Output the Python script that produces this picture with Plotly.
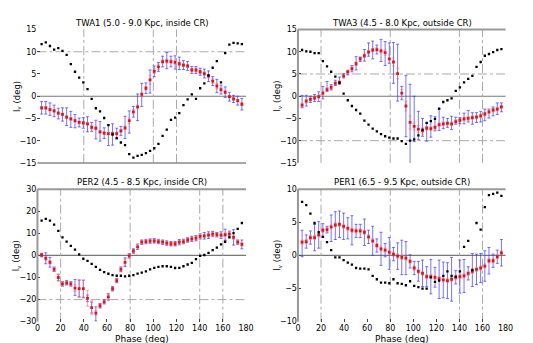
import plotly.graph_objects as go

# phase bins (deg), shared by all four panels
PHASE = [3.6, 7.2, 10.8, 14.4, 18.0, 21.6, 25.2, 28.8, 32.4, 36.0,
         39.6, 43.2, 46.8, 50.4, 54.0, 57.6, 61.2, 64.8, 68.4, 72.0,
         75.6, 79.2, 82.8, 86.4, 90.0, 93.6, 97.2, 100.8, 104.4, 108.0,
         111.6, 115.2, 118.8, 122.4, 126.0, 129.6, 133.2, 136.8, 140.4, 144.0,
         147.6, 151.2, 154.8, 158.4, 162.0, 165.6, 169.2, 172.8, 176.4]
X_TICKS = [0, 20, 40, 60, 80, 100, 120, 140, 160, 180]

# ---- TWA1 (5.0 - 9.0 Kpc, inside CR)
TWA1_BLACK = [11.7, 12.1, 11.3, 10.5, 10.8, 10.2, 9.3, 7.2, 5.5, 4.2,
              3.1, 1.6, -0.6, -2.7, -3.4, -4.9, -6.5, -8.6, -9.4, -10.4,
              -11.0, -13.0, -13.8, -13.4, -13.2, -12.8, -12.3, -11.7, -10.7, -8.9,
              -7.5, -5.3, -4.8, -3.8, -2.0, -0.7, 0.4, -0.6, 1.8, 2.9,
              4.7, 6.4, 7.9, 3.1, 9.7, 11.6, 12.0, 11.9, 11.7]
TWA1_RED = [-2.6, -2.6, -3.0, -3.3, -3.8, -4.1, -4.7, -5.1, -5.5, -5.9,
            -6.0, -6.2, -7.0, -7.2, -8.0, -8.3, -8.4, -8.4, -8.4, -7.8,
            -7.1, -5.5, -3.5, -2.4, 0.4, 1.8, 3.7, 5.6, 6.6, 7.8,
            7.9, 7.8, 7.6, 7.3, 7.0, 6.8, 5.9, 5.9, 5.5, 5.1,
            4.5, 3.4, 2.3, 1.5, 0.9, -0.1, -0.6, -1.0, -1.8]
TWA1_RED_ERR = [0.3, 0.3, 0.3, 0.3, 0.3, 0.3, 0.3, 0.3, 0.3, 0.3,
                0.3, 0.3, 0.4, 0.3, 0.3, 0.3, 0.3, 0.3, 0.3, 0.3,
                0.4, 0.6, 0.5, 0.4, 0.4, 0.4, 1.0, 0.5, 0.6, 0.4,
                0.4, 0.4, 0.4, 0.4, 0.3, 0.3, 0.3, 0.4, 0.4, 0.4,
                0.4, 0.5, 0.6, 0.4, 0.3, 0.3, 0.3, 0.3, 0.3]
TWA1_BLUE = [-2.6, -2.6, -2.9, -3.3, -3.9, -4.1, -4.6, -5.2, -5.6, -5.9,
             -6.0, -6.3, -6.9, -7.5, -7.9, -8.3, -8.8, -8.6, -8.4, -7.8,
             -7.0, -5.8, -3.5, -2.5, 0.3, 1.8, 3.3, 5.6, 6.6, 7.8,
             8.0, 7.8, 7.6, 7.4, 7.0, 6.8, 5.9, 5.9, 5.5, 5.1,
             4.5, 3.4, 2.3, 1.5, 0.9, -0.1, -0.6, -1.0, -1.8]
TWA1_BLUE_ERR = [1.4, 1.4, 1.4, 1.3, 1.2, 1.5, 2.0, 1.8, 1.5, 1.0,
                 1.2, 1.7, 1.0, 2.1, 2.2, 1.2, 2.3, 2.4, 1.2, 1.0,
                 2.5, 2.5, 1.2, 3.0, 2.6, 1.2, 2.6, 1.2, 1.0, 1.2,
                 1.8, 1.2, 1.5, 1.4, 1.0, 1.0, 0.8, 0.8, 0.8, 1.0,
                 1.2, 1.0, 1.5, 1.0, 1.2, 1.0, 0.8, 1.0, 1.3]

# ---- TWA3 (4.5 - 8.0 Kpc, outside CR)
TWA3_BLACK = [10.4, 10.1, 10.0, 9.7, 9.7, 7.9, 6.7, 5.5, 4.4, 3.0,
              0.6, -0.9, -2.2, -3.1, -3.9, -5.5, -6.4, -7.3, -7.9, -8.5,
              -9.0, -9.3, -9.5, -9.5, -10.1, -10.7, -10.0, -9.7, -8.8, -7.5,
              -6.0, -5.6, -5.1, -2.8, -1.3, -0.9, -0.5, 1.2, 2.0, 3.1,
              3.9, 4.6, 6.6, 7.7, 9.1, 9.5, 9.9, 10.4, 10.6]
TWA3_RED = [-2.0, -1.1, -0.7, -0.4, -0.1, 0.7, 1.5, 2.0, 2.9, 3.1,
            4.6, 5.5, 6.2, 7.3, 8.4, 9.1, 9.9, 10.4, 10.5, 10.2,
            9.8, 8.4, 7.7, 5.1, 0.7, -2.2, -5.9, -6.8, -7.4, -7.8,
            -7.2, -7.3, -7.0, -6.4, -6.2, -6.1, -6.2, -5.7, -5.4, -5.1,
            -5.0, -4.8, -4.7, -4.4, -4.0, -3.5, -3.1, -2.9, -2.4]
TWA3_RED_ERR = [0.4, 0.4, 0.4, 0.4, 0.4, 0.4, 0.4, 0.4, 0.4, 0.4,
                0.4, 0.4, 0.4, 0.4, 0.4, 0.4, 0.4, 0.4, 0.4, 0.4,
                0.6, 0.9, 0.9, 1.2, 0.8, 1.1, 1.5, 0.8, 0.8, 0.7,
                0.4, 0.4, 0.4, 0.4, 0.4, 0.4, 0.4, 0.4, 0.4, 0.4,
                0.4, 0.4, 0.4, 0.4, 0.4, 0.4, 0.4, 0.4, 0.4]
TWA3_BLUE = [-1.2, -1.0, -0.7, -0.4, -0.1, 0.8, 2.2, 2.0, 3.0, 3.5,
             4.6, 5.2, 6.2, 7.4, 8.3, 9.2, 10.5, 10.4, 10.5, 10.3,
             9.6, 9.7, 7.5, 5.3, 0.7, -2.2, -6.3, -5.1, -6.6, -7.0,
             -8.1, -6.8, -6.2, -5.3, -6.0, -6.0, -6.0, -5.5, -5.5, -5.0,
             -4.5, -5.0, -4.8, -4.6, -4.2, -3.9, -3.4, -2.8, -2.5]
TWA3_BLUE_ERR = [1.4, 1.2, 0.7, 0.8, 1.1, 1.4, 1.1, 0.6, 0.6, 0.8,
                 0.5, 0.4, 0.7, 1.5, 0.5, 1.3, 1.5, 2.0, 1.0, 2.5,
                 2.7, 2.3, 4.6, 6.4, 1.5, 6.9, 9.0, 5.1, 3.2, 2.0,
                 2.0, 2.4, 1.6, 2.4, 1.3, 1.0, 1.5, 0.8, 0.7, 1.2,
                 1.3, 1.3, 1.1, 1.2, 1.3, 1.0, 1.0, 1.3, 1.0]

# ---- PER2 (4.5 - 8.5 Kpc, inside CR)
PER2_BLACK = [15.8, 16.6, 15.8, 14.0, 11.1, 8.2, 6.3, 4.3, 2.6, 0.5,
              -1.5, -2.5, -3.8, -5.2, -6.5, -7.6, -8.3, -8.9, -9.2, -9.2,
              -9.5, -9.2, -8.9, -8.2, -7.8, -7.2, -6.3, -5.6, -5.2, -4.9,
              -4.9, -5.2, -5.7, -5.6, -4.9, -4.1, -3.4, -1.7, -0.2, 0.2,
              1.2, 2.4, 3.5, 5.0, 6.2, 8.2, 10.1, 12.0, 14.7]
PER2_RED = [0.2, -1.3, -3.1, -6.3, -10.0, -12.9, -12.4, -12.9, -14.8, -15.0,
            -15.0, -19.4, -23.6, -26.1, -22.8, -21.0, -18.8, -15.1, -11.4, -6.3,
            -3.1, -0.2, 2.0, 3.9, 6.0, 6.3, 6.5, 6.6, 6.3, 6.0,
            5.6, 5.3, 5.3, 6.0, 6.3, 7.0, 7.5, 7.8, 8.6, 8.9,
            9.2, 9.7, 9.4, 9.2, 9.4, 9.7, 8.2, 6.0, 5.0]
PER2_RED_ERR = [0.5, 0.8, 0.8, 1.0, 1.5, 1.0, 0.8, 0.8, 1.5, 4.0,
                3.8, 3.6, 3.3, 1.0, 0.8, 0.8, 1.0, 0.8, 0.8, 1.2,
                1.5, 0.8, 0.8, 1.2, 0.8, 0.8, 0.8, 0.8, 0.8, 0.8,
                0.8, 0.8, 0.8, 0.8, 1.0, 0.8, 0.8, 0.8, 0.8, 0.8,
                0.8, 0.8, 0.8, 0.8, 0.8, 1.5, 1.0, 0.8, 0.8]
PER2_BLUE = [0.2, -1.3, -3.1, -6.3, -10.0, -12.9, -12.4, -12.9, -14.5, -15.0,
             -15.2, -19.4, -23.6, -26.5, -22.8, -21.0, -18.8, -15.1, -11.4, -6.3,
             -3.1, -0.2, 2.0, 3.9, 6.0, 6.3, 6.5, 6.6, 6.3, 6.0,
             5.6, 5.3, 5.3, 6.0, 6.3, 7.0, 7.5, 7.8, 8.6, 8.9,
             9.2, 9.7, 9.4, 9.2, 9.4, 9.7, 8.2, 6.0, 5.0]
PER2_BLUE_ERR = [0.8, 2.5, 2.2, 1.0, 1.5, 1.0, 1.0, 1.0, 3.6, 3.8,
                 4.0, 1.5, 2.5, 3.2, 1.0, 1.0, 1.5, 1.0, 1.0, 1.0,
                 2.0, 1.0, 1.0, 1.2, 1.0, 1.0, 1.0, 1.0, 1.0, 1.0,
                 1.0, 1.0, 1.0, 1.2, 1.0, 1.0, 1.2, 1.2, 1.2, 1.5,
                 1.5, 1.2, 1.0, 1.5, 2.5, 1.0, 3.5, 1.0, 2.0]

# ---- PER1 (6.5 - 9.5 Kpc, outside CR)
PER1_BLACK = [8.1, 7.6, 6.3, 4.9, 3.5, 2.8, 2.0, 0.8, -0.3, -0.3,
              -0.7, -1.1, -1.4, -1.9, -2.0, -2.0, -2.1, -3.1, -3.6, -4.1,
              -4.1, -4.2, -3.6, -4.2, -4.3, -4.5, -3.9, -4.6, -4.8, -5.0,
              -5.0, -3.3, -4.0, -3.8, -3.1, -2.4, -3.1, -3.2, -2.4, 1.3,
              2.2, -2.2, 4.9, 3.9, 7.3, 9.1, 9.3, 9.5, 9.0]
PER1_RED = [2.0, 2.1, 2.7, 2.7, 3.1, 3.8, 3.9, 4.3, 4.6, 4.7,
            4.4, 4.1, 3.8, 3.7, 3.7, 3.5, 2.8, 2.2, 1.5, 1.0,
            0.8, 0.5, 0.2, -0.1, -0.3, -0.4, -0.9, -1.9, -2.4, -2.7,
            -3.2, -3.2, -3.3, -3.5, -3.7, -3.8, -3.6, -3.3, -3.2, -3.1,
            -2.7, -2.4, -2.1, -1.9, -1.6, -0.8, -0.8, -0.2, 0.4]
PER1_RED_ERR = [0.3, 0.3, 0.3, 0.3, 0.3, 0.3, 0.3, 0.3, 0.3, 0.3,
                0.3, 0.3, 0.3, 0.3, 0.3, 0.3, 0.3, 0.3, 0.3, 0.3,
                0.3, 0.3, 0.3, 0.3, 0.3, 0.3, 0.3, 0.3, 0.3, 0.3,
                0.3, 0.3, 0.3, 0.3, 0.3, 0.3, 0.3, 0.3, 0.3, 0.3,
                0.3, 0.3, 0.3, 0.3, 0.3, 0.3, 0.3, 0.3, 0.3]
PER1_BLUE = [1.8, 2.1, 2.7, 2.7, 3.1, 3.8, 3.9, 4.1, 4.5, 4.7,
             4.4, 4.1, 3.8, 3.7, 3.7, 3.5, 2.8, 2.2, 1.5, 1.0,
             0.8, 0.3, 0.2, -0.1, -0.3, -0.4, -0.9, -1.9, -2.4, -2.7,
             -3.2, -3.2, -3.3, -3.6, -3.7, -3.8, -3.6, -3.3, -3.2, -3.1,
             -2.7, -2.2, -2.1, -1.9, -1.6, -0.8, -0.8, -0.2, 0.4]
PER1_BLUE_ERR = [2.0, 1.0, 1.0, 2.0, 2.0, 1.0, 0.5, 2.0, 2.1, 2.0,
                 2.0, 1.6, 2.2, 1.0, 1.0, 2.0, 1.0, 2.2, 1.0, 2.5,
                 1.0, 2.4, 1.0, 2.0, 2.6, 2.5, 1.0, 1.0, 1.5, 2.0,
                 1.5, 2.6, 1.5, 2.9, 2.7, 2.7, 3.3, 1.0, 2.5, 2.5,
                 1.0, 2.5, 2.3, 2.2, 2.3, 2.0, 1.0, 1.0, 2.0]

FONT = "DejaVu Sans"
W, H = 533, 343

panels = [
    dict(title="TWA1 (5.0 - 9.0 Kpc, inside CR)", black=TWA1_BLACK, red=TWA1_RED, red_err=TWA1_RED_ERR,
         blue=TWA1_BLUE, blue_err=TWA1_BLUE_ERR, yrange=[-15, 15], ytick=[-15, -10, -5, 0, 5, 10, 15],
         vlines=[40, 100, 120], hlines=[10], spines=["bottom"], col=0, row=0),
    dict(title="TWA3 (4.5 - 8.0 Kpc, outside CR)", black=TWA3_BLACK, red=TWA3_RED, red_err=TWA3_RED_ERR,
         blue=TWA3_BLUE, blue_err=TWA3_BLUE_ERR, yrange=[-15, 15], ytick=[-15, -10, -5, 0, 5, 10, 15],
         vlines=[20, 80, 140, 160], hlines=[5, -10], spines=["top", "left"], col=1, row=0),
    dict(title="PER2 (4.5 - 8.5 Kpc, inside CR)", black=PER2_BLACK, red=PER2_RED, red_err=PER2_RED_ERR,
         blue=PER2_BLUE, blue_err=PER2_BLUE_ERR, yrange=[-30, 30], ytick=[-30, -20, -10, 0, 10, 20, 30],
         vlines=[20, 80, 140, 160], hlines=[-20], spines=["top", "left"], col=0, row=1),
    dict(title="PER1 (6.5 - 9.5 Kpc, outside CR)", black=PER1_BLACK, red=PER1_RED, red_err=PER1_RED_ERR,
         blue=PER1_BLUE, blue_err=PER1_BLUE_ERR, yrange=[-10, 10], ytick=[-10, -5, 0, 5, 10],
         vlines=[20, 80, 140, 160], hlines=[], spines=["top", "left"], col=1, row=1),
]

# pixel boxes of the axes in the 533x343 picture
x_dom = [[27 / W, 240 / W], [293 / W, 505 / W]]
y_dom = [[1 - 155 / H, 1 - 18 / H], [1 - 318 / H, 1 - 182 / H]]

fig = go.Figure()
layout = dict(width=W, height=H, margin=dict(l=0, r=0, t=0, b=0),
              plot_bgcolor="white", paper_bgcolor="white", showlegend=False,
              font=dict(family=FONT, size=8, color="black"))
shapes = []
annotations = []

for i, p in enumerate(panels):
    n = "" if i == 0 else str(i + 1)
    xa, ya = "x" + n, "y" + n
    bottom = p["row"] == 1

    # blue error bars only (no centre marker), then red points, then the black curve
    fig.add_trace(go.Scatter(x=PHASE, y=p["blue"], xaxis=xa, yaxis=ya, mode="markers",
                             marker=dict(size=1, color="rgba(0,0,0,0)"),
                             error_y=dict(type="data", array=p["blue_err"], color="rgba(60,60,255,0.7)",
                                          thickness=1, width=1.5)))
    fig.add_trace(go.Scatter(x=PHASE, y=p["red"], xaxis=xa, yaxis=ya, mode="markers",
                             marker=dict(size=2.8, color="#e0141c", symbol="square"),
                             error_y=dict(type="data", array=p["red_err"], color="rgba(255,100,100,0.55)",
                                          thickness=1, width=1.5)))
    fig.add_trace(go.Scatter(x=PHASE, y=p["black"], xaxis=xa, yaxis=ya, mode="markers",
                             marker=dict(size=2.3, color="black", symbol="square")))

    layout["xaxis" + n] = dict(domain=x_dom[p["col"]], anchor=ya, range=[0, 180], showgrid=False,
                               zeroline=False, tickvals=X_TICKS, showticklabels=bottom,
                               ticks="inside" if bottom else "", ticklen=3, tickcolor="#444",
                               tickfont=dict(size=8))
    layout["yaxis" + n] = dict(domain=y_dom[p["row"]], anchor=xa, range=p["yrange"], showgrid=False,
                               zeroline=False, tickvals=p["ytick"], ticks="inside", ticklen=3,
                               tickcolor="#444", tickfont=dict(size=8))

    xd, yd = xa + " domain", ya + " domain"
    # solid zero line
    shapes.append(dict(type="line", xref=xd, x0=0, x1=1, yref=ya, y0=0, y1=0,
                       line=dict(color="#777", width=1.2), layer="below"))
    for v in p["vlines"]:
        shapes.append(dict(type="line", xref=xa, x0=v, x1=v, yref=yd, y0=0, y1=1,
                           line=dict(color="#aaa", width=1, dash="dashdot"), layer="below"))
    for h in p["hlines"]:
        shapes.append(dict(type="line", xref=xd, x0=0, x1=1, yref=ya, y0=h, y1=h,
                           line=dict(color="#aaa", width=1, dash="dashdot"), layer="below"))
    for s in p["spines"]:
        if s == "top":
            shapes.append(dict(type="line", xref=xd, x0=0, x1=1, yref=yd, y0=1, y1=1,
                               line=dict(color="#999", width=2)))
        elif s == "bottom":
            shapes.append(dict(type="line", xref=xd, x0=0, x1=1, yref=yd, y0=0, y1=0,
                               line=dict(color="#888", width=1.5)))
        elif s == "left":
            shapes.append(dict(type="line", xref=xd, x0=0, x1=0, yref=yd, y0=0, y1=1,
                               line=dict(color="#999", width=2)))

    xc = sum(x_dom[p["col"]]) / 2
    yc = sum(y_dom[p["row"]]) / 2
    annotations.append(dict(text=p["title"], xref="paper", yref="paper", x=xc, y=y_dom[p["row"]][1],
                            xanchor="center", yanchor="bottom", showarrow=False, font=dict(size=8.5)))
    annotations.append(dict(text="l<sub>v</sub> (deg)", xref="paper", yref="paper",
                            x=(6 if p["col"] == 0 else 272) / W, y=yc, textangle=-90,
                            xanchor="center", yanchor="middle", showarrow=False, font=dict(size=8.5)))
    if bottom:
        annotations.append(dict(text="Phase (deg)", xref="paper", yref="paper", x=xc, y=1 - 336 / H,
                                xanchor="center", yanchor="middle", showarrow=False, font=dict(size=9)))

layout["shapes"] = shapes
layout["annotations"] = annotations
fig.update_layout(**layout)

fig.write_html("out.html")
